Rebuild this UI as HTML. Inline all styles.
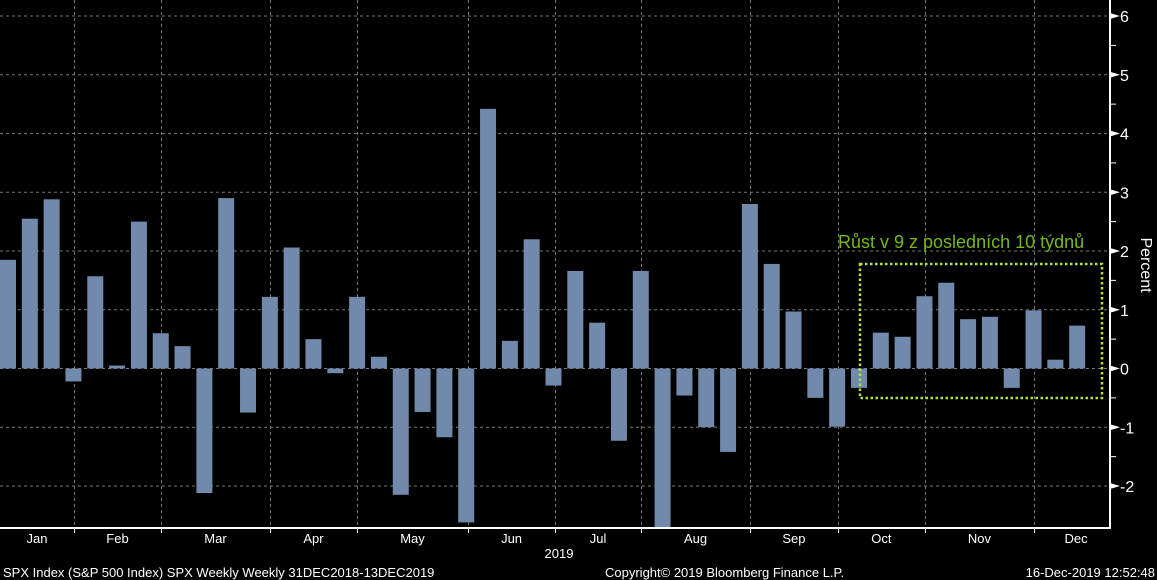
<!DOCTYPE html>
<html><head><meta charset="utf-8"><style>
html,body{margin:0;padding:0;background:#000;width:1157px;height:580px;overflow:hidden}
svg text{font-family:"Liberation Sans","DejaVu Sans",sans-serif}
</style></head><body>
<svg id="chart" width="1157" height="580" xmlns="http://www.w3.org/2000/svg">
<g id="grid"></g>
<g id="bars"></g>
<g id="axes"></g>
<rect x="860" y="264" width="242" height="134" fill="none" stroke="#b2e43a" stroke-width="2.5" stroke-dasharray="2.5,2.5"/>
<text x="838" y="248" fill="#76b81e" font-size="18">Růst v 9 z posledních 10 týdnů</text>
<text transform="translate(1141,265) rotate(90)" fill="#fff" font-size="16" text-anchor="middle">Percent</text>
<text x="559" y="558" fill="#fff" font-size="13" text-anchor="middle">2019</text>
<text x="3" y="577" fill="#fff" font-size="13">SPX Index (S&amp;P 500 Index) SPX Weekly  Weekly 31DEC2018-13DEC2019</text>
<text x="605" y="577" fill="#fff" font-size="13">Copyright© 2019 Bloomberg Finance L.P.</text>
<text x="1155" y="577" fill="#fff" font-size="13" text-anchor="end">16-Dec-2019 12:52:48</text>
</svg>
<script>
const values=[1.85,2.55,2.88,-0.22,1.57,0.05,2.50,0.60,0.38,-2.12,2.90,-0.75,1.22,2.06,0.50,-0.08,1.22,0.20,-2.15,-0.74,-1.17,-2.62,4.42,0.47,2.20,-0.29,1.66,0.78,-1.23,1.66,-3.10,-0.46,-1.00,-1.42,2.80,1.78,0.97,-0.50,-0.99,-0.33,0.61,0.54,1.23,1.46,0.84,0.88,-0.33,0.99,0.15,0.73];
const yTicks=[-2,-1,0,1,2,3,4,5,6];
const months=["Jan","Feb","Mar","Apr","May","Jun","Jul","Aug","Sep","Oct","Nov","Dec"];
const monthWeeks=[0,3.39,7.38,12.37,16.36,21.45,25.44,29.38,34.37,38.4,42.39,47.39,50.87];
const NS="http://www.w3.org/2000/svg";
const axisX=1110, axisY=528, plotTop=0;
function y(v){return 368.5-v*58.75;}
function xw(w){return w*21.82;}
function mk(t,a,p){const e=document.createElementNS(NS,t);for(const k in a)e.setAttribute(k,a[k]);p.appendChild(e);return e;}
const grid=document.getElementById('grid'),bars=document.getElementById('bars'),axes=document.getElementById('axes');
yTicks.forEach(t=>{
 const l=mk('line',{x1:0,x2:axisX,y1:y(t),y2:y(t),stroke:'#777','stroke-dasharray':'3,3'},grid);
 
 
 const tri=mk('path',{d:`M${axisX} ${y(t)-3}L${axisX+10} ${y(t)}L${axisX} ${y(t)+3}Z`,fill:'#fff'},axes);
 
 
 const tx=mk('text',{x:axisX+10,y:y(t)+6,fill:'#fff','font-size':'16'},axes);
 tx.textContent=(t<0?'-':'')+Math.abs(t);
 
 
 const m=mk('line',{x1:axisX,x2:axisX+6,y1:y(t+0.5),y2:y(t+0.5),stroke:'#fff'},axes);
 
 
});
monthWeeks.slice(1,12).forEach(w=>{
 const X=Math.round(xw(w))+0.5;
 const l=mk('line',{x1:X,x2:X,y1:0,y2:axisY,stroke:'#777','stroke-dasharray':'3,3'},grid);
 
 
 const tk=mk('line',{x1:X,x2:X,y1:axisY,y2:axisY+5,stroke:'#fff'},axes);
 
 
});
months.forEach((m,i)=>{
 const cx=xw((monthWeeks[i]+monthWeeks[i+1])/2)+(i==11?4:0);
 const t=mk('text',{x:cx,y:543,fill:'#fff','font-size':'13','text-anchor':'middle'},axes);
 t.textContent=m;
 
 
});
values.forEach((v,i)=>{
 const x0=xw(i), top=Math.max(Math.min(y(v),y(0)),plotTop), bot=Math.min(Math.max(y(v),y(0)),axisY);
 const r=mk('rect',{x:x0,y:top,width:16,height:bot-top,fill:'#7189aa'},bars);
 
 
});
const ax=mk('line',{x1:0,x2:axisX+1,y1:axisY,y2:axisY,stroke:'#fff','stroke-width':2},axes);


const ay=mk('line',{x1:axisX,x2:axisX,y1:0,y2:axisY,stroke:'#fff','stroke-width':2},axes);


</script>
</body></html>
